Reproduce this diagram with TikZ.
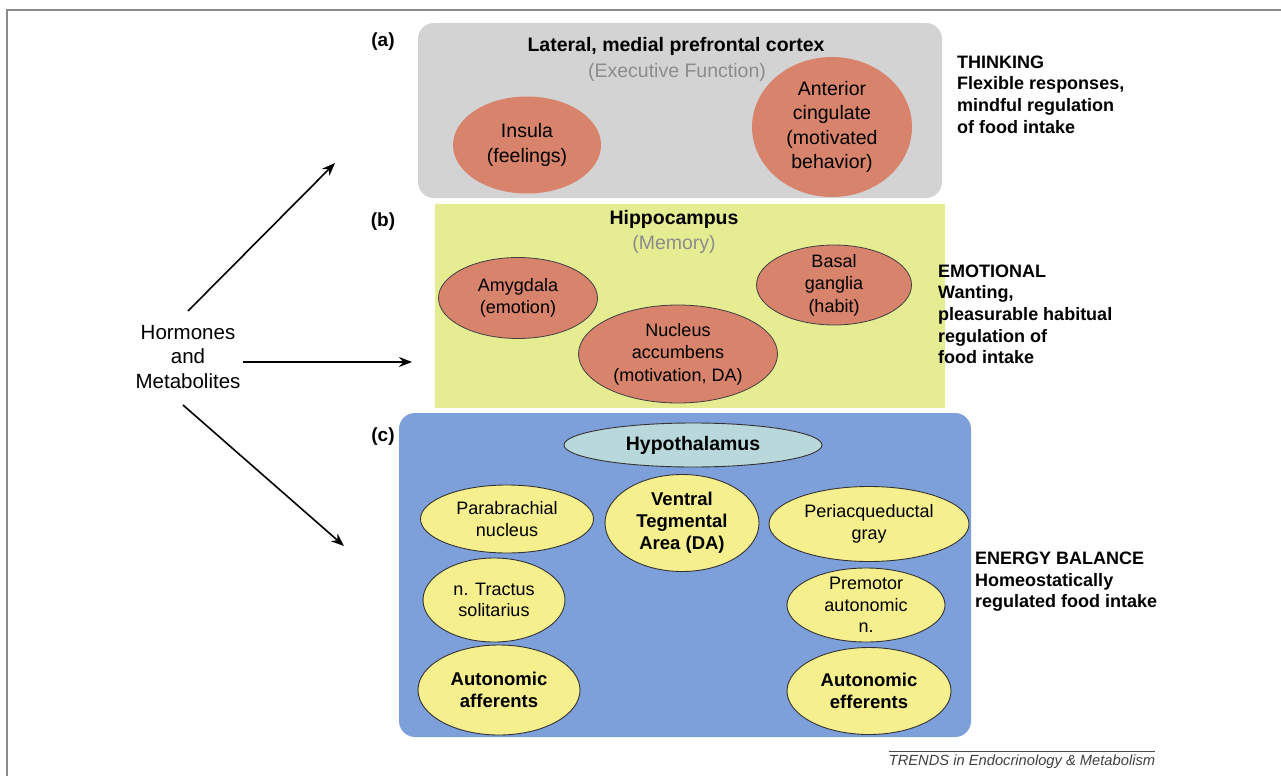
\documentclass[tikz,border=0pt]{standalone}
\usepackage{fontspec}
\setmainfont{Liberation Sans}
\usetikzlibrary{shapes.geometric,arrows.meta}
\definecolor{panelgray}{HTML}{D3D3D3}
\definecolor{panelyellow}{HTML}{E5EC92}
\definecolor{panelblue}{HTML}{7EA0DA}
\definecolor{salmon}{HTML}{D8836B}
\definecolor{paleyellow}{HTML}{F6EF8E}
\definecolor{hypo}{HTML}{B9D8DB}
\definecolor{framegray}{HTML}{8A8A8A}
\definecolor{subgray}{HTML}{8C8C8C}
\newcommand\myfs[2]{\fontsize{#1}{#2}\selectfont}
\begin{document}
\begin{tikzpicture}[x=1pt,y=-1pt,
  panelbox/.style={draw=none, inner sep=0},
  oval/.style={ellipse, inner sep=-6pt, align=center, font=\myfs{18}{21.7}},
  salm/.style={oval, fill=salmon, font=\myfs{19.5}{24.5}},
  salmb/.style={salm, draw=black!75, line width=0.8, font=\myfs{18}{22.5}},
  yel/.style={oval, fill=paleyellow, draw=black!80, line width=0.9},
  yelb/.style={yel, font=\myfs{18.5}{22}\bfseries},
  sidetext/.style={anchor=north west, align=left, inner sep=0, font=\myfs{18}{21.6}\bfseries},
  plabel/.style={inner sep=0, font=\myfs{19}{22}\bfseries},
  title/.style={inner sep=0, font=\myfs{19.5}{23}\bfseries},
  subtitle/.style={inner sep=0, text=subgray, font=\myfs{19.5}{23}},
  conn/.style={-{Stealth[length=13pt,width=10pt]}, line width=1.6}
]
\useasboundingbox (0,0) rectangle (1281,776);
\fill[white] (0,0) rectangle (1281,776);
\draw[framegray, line width=2] (7,776) -- (7,10.5) -- (1281,10.5);

% panels
\node[panelbox, fill=panelgray, rounded corners=16, minimum width=524, minimum height=175] (pa) at (680,110.5) {};
\node[panelbox, fill=panelyellow, minimum width=510, minimum height=204] (pb) at (690,306) {};
\node[panelbox, fill=panelblue, rounded corners=16, minimum width=572, minimum height=324] (pc) at (685,575) {};

% panel labels
\node[plabel] (la) at (383,42) {(a)};
\node[plabel] (lb) at (383,222) {(b)};
\node[plabel] (lc) at (383,437) {(c)};

% panel (a)
\node[title] (ta) at (676,46) {Lateral, medial prefrontal cortex};
\node[subtitle] (sa) at (677,72) {(Executive Function)};
\node[salm, minimum width=148, minimum height=97] (insula) at (527,145) {Insula\\(feelings)};
\node[salm, minimum width=160, minimum height=140] (acing) at (832,127) {Anterior\\cingulate\\(motivated\\behavior)};

% panel (b)
\node[title] (tb) at (674,219) {Hippocampus};
\node[subtitle] (sb) at (674,244) {(Memory)};
\node[salmb, minimum width=159, minimum height=81] (amyg) at (518,298) {Amygdala\\(emotion)};
\node[salmb, minimum width=199, minimum height=98] (nacc) at (678,354) {Nucleus\\accumbens\\(motivation, DA)};
\node[salmb, minimum width=155, minimum height=80] (basal) at (834,285) {Basal\\ganglia\\(habit)};

% panel (c)
\node[oval, fill=hypo, draw=black!80, line width=0.9, minimum width=258, minimum height=44, font=\myfs{19.5}{22}\bfseries] (hypo) at (693,445) {Hypothalamus};
\node[yel, minimum width=173, minimum height=68] (parab) at (507,519) {Parabrachial\\nucleus};
\node[yelb, minimum width=154, minimum height=97] (vta) at (682,523) {Ventral\\Tegmental\\Area (DA)};
\node[yel, minimum width=200, minimum height=75] (peri) at (869,524) {Periacqueductal\\gray};
\node[yel, minimum width=142, minimum height=84] (nts) at (494,600) {n. Tractus\\solitarius};
\node[yel, minimum width=158, minimum height=74] (premot) at (866,605) {Premotor\\autonomic\\n.};
\node[yelb, minimum width=162, minimum height=90] (aff) at (499,690) {Autonomic\\afferents};
\node[yelb, minimum width=164, minimum height=87] (eff) at (869,691) {Autonomic\\efferents};

% side texts
\node[sidetext] (think) at (957,55.5) {THINKING\\Flexible responses,\\mindful regulation\\of food intake};
\node[sidetext] (emo) at (938,264.5) {EMOTIONAL\\Wanting,\\pleasurable habitual\\regulation of\\food intake};
\node[sidetext] (energy) at (975,552) {ENERGY BALANCE\\Homeostatically\\regulated food intake};

% hormones and arrows
\node[align=center, inner sep=0, font=\myfs{20.5}{24.5}] (hm) at (188,357) {Hormones\\and\\Metabolites};
\coordinate (s1) at (188,311);
\coordinate (e1) at (335,163);
\coordinate (s2) at (243,362);
\coordinate (e2) at (412,362);
\coordinate (s3) at (183,405);
\coordinate (e3) at (344,546);
\draw[conn] (s1) -- (e1);
\draw[conn] (s2) -- (e2);
\draw[conn] (s3) -- (e3);

% source
\node[inner sep=0, font=\myfs{14.7}{16}\itshape, text=black!75] (src) at (1022,762) {TRENDS in Endocrinology \& Metabolism};
\draw[black!70, line width=0.8] ([yshift=4pt]src.north west) -- ([yshift=4pt]src.north east);
\end{tikzpicture}
\end{document}
